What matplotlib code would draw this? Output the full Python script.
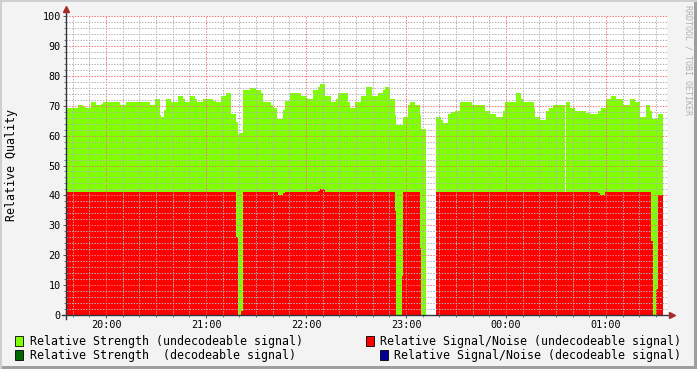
import matplotlib
matplotlib.use("Agg")
import matplotlib.pyplot as plt
import numpy as np
from matplotlib.patches import Rectangle
from matplotlib.lines import Line2D

# ---------------- data (minutes after 20:00; last time = end of data) -------------
strength_t = [-24.0, -16.8, -13.8, -12.2, -9.2, -6.2, -2.8, -1.6, 8.4, 11.8, 26.4, 29.2,
              32.4, 33.0, 34.8, 36.2, 38.8, 43.2, 46.2, 47.4, 50.4, 53.4, 54.4, 58.4,
              64.4, 65.8, 68.8, 71.8, 74.8, 78.0, 79.2, 80.4, 82.2, 86.4, 89.8, 92.8,
              93.9, 98.8, 100.2, 102.8, 106.2, 107.4, 110.4, 116.8, 119.8, 121.2, 124.2,
              127.2, 128.4, 131.4, 134.8, 137.8, 139.2, 145.2, 146.4, 149.4, 152.8, 156.2,
              159.8, 163.2, 166.2, 167.4, 170.4, 173.4, 174.0, 178.0, 181.2, 182.4, 185.4,
              188.4, 189.0, 192.0, 198.0, 201.0, 202.4, 205.4, 207.0, 209.4, 212.4, 219.4,
              227.4, 230.7, 234.2, 238.2, 239.7, 245.8, 249.0, 250.2, 256.5, 257.4, 260.4,
              263.7, 265.8, 268.4, 275.7, 278.2, 281.4, 288.0, 289.8, 295.2, 296.8, 299.8,
              302.8, 305.8, 310.2, 314.4, 317.4, 320.4, 323.8, 326.7, 327.9, 331.2, 334.2]
strength_v = [69.3, 70.2, 69.7, 69.3, 71.2, 70.2, 70.7, 71.2, 70.2, 71.2, 70.2, 72.2,
              66.9, 66.3, 68.6, 72.2, 71.2, 73.2, 72.2, 71.2, 73.2, 72.2, 71.2, 72.2,
              71.6, 71.2, 73.2, 74.2, 67.3, 64.6, 60.4, 60.8, 75.2, 75.8, 75.2, 74.2,
              71.2, 70.2, 69.3, 65.4, 68.6, 71.7, 74.2, 73.2, 72.6, 72.2, 75.2,
              76.2, 77.3, 73.2, 71.2, 72.2, 74.2, 71.2, 69.2, 71.2, 73.2, 76.2,
              73.2, 74.2, 75.2, 76.2, 72.2, 67.0, 63.5, 66.3, 70.2, 71.2, 70.2,
              66.9, 62.1, np.nan, 66.3, 65.2, 64.3, 67.2, 67.8, 68.3, 71.2, 70.2,
              68.2, 67.2, 66.3, 68.2, 71.2, 74.2, 72.2, 71.2, 69.2, 66.3, 65.3,
              68.2, 69.2, 70.2, 71.2, 69.2, 68.2, 67.6, 67.2, 68.3, 69.2, 72.2,
              73.2, 72.2, 70.2, 72.2, 71.2, 66.3, 70.2, 68.3, 65.4, 67.2]

snr_t = [-24.0, 78.0, 79.0, 81.0, 82.2, 103.0, 106.0, 107.4, 127.0, 128.4, 131.4,
         173.4, 174.0, 177.3, 178.2, 188.4, 189.0, 192.0, 198.0, 295.0, 296.4, 299.4,
         327.0, 328.0, 330.0, 331.0, 334.2]
snr_v = [41.2, 26.2, 0.0, 1.4, 41.2, 40.2, 40.7, 41.2, 41.6, 42.1, 41.2,
         34.8, 0.0, 13.1, 41.2, 22.4, 0.0, np.nan, 41.2, 40.7, 40.1, 41.2,
         24.7, 0.0, 8.7, 40.1]

x_tick_pos = [0, 60, 120, 180, 240, 300]
x_tick_labels = ["20:00", "21:00", "22:00", "23:00", "00:00", "01:00"]
y_ticks = list(range(0, 101, 10))

legend_labels = ["Relative Strength (undecodeable signal)",
                 "Relative Signal/Noise (undecodeable signal)",
                 "Relative Strength  (decodeable signal)",
                 "Relative Signal/Noise (decodeable signal)"]
legend_colors = ["#80FF00", "#FF0000", "#006600", "#000099"]

# ---------------- figure ---------------------------------------------------------
W, H = 697, 369
MONO = "DejaVu Sans Mono"
plt.rcParams["font.family"] = MONO

fig = plt.figure(figsize=(W / 100, H / 100), dpi=100, facecolor="#F3F3F3")

def fx(px):
    return px / W

def fy(py):
    return 1 - py / H

L, R, T, B = 66, 667, 16, 315
ax = fig.add_axes([fx(L), fy(B), fx(R) - fx(L), fy(T) - fy(B)])
ax.set_facecolor("white")

st = np.array(strength_t)
ax.bar(st[:-1], strength_v, width=np.diff(st), align="edge", color=legend_colors[0],
       linewidth=0, antialiased=False, zorder=1)
rt = np.array(snr_t)
ax.bar(rt[:-1], snr_v, width=np.diff(rt), align="edge", color=legend_colors[1],
       linewidth=0, antialiased=False, zorder=1.2)

ax.set_xlim(-24.0, 336.6)
ax.set_ylim(0, 100)

ax.set_xticks(x_tick_pos)
ax.set_xticklabels(x_tick_labels)
ax.set_xticks(np.arange(-20, 336, 10), minor=True)
ax.set_yticks(y_ticks)
ax.set_yticks(np.arange(0, 101, 2), minor=True)

ax.set_axisbelow(False)
ax.grid(which="minor", color=(0.70, 0.70, 0.70, 0.5), linestyle=(0, (1.4, 1.4)),
        linewidth=0.72)
ax.grid(which="major", color=(0.95, 0.45, 0.45, 0.5), linestyle=(0, (1.4, 1.4)),
        linewidth=0.72)

ax.tick_params(which="major", length=2.5, width=0.7, color="#555555", pad=1.3,
               labelsize=7.3, direction="out")
ax.tick_params(which="minor", length=1.5, width=0.7, color="#777777", direction="out")
for s in ax.spines.values():
    s.set_visible(False)

# axis lines with arrows
axis_col = "#2F3540"
ax.add_line(Line2D([-4 / 601, 1 + 3 / 601], [0, 0], transform=ax.transAxes,
                   color=axis_col, linewidth=1.0, clip_on=False, zorder=5))
ax.add_line(Line2D([0, 0], [-4 / 299, 1 + 5 / 299], transform=ax.transAxes,
                   color=axis_col, linewidth=1.0, clip_on=False, zorder=5))
ax.plot([1 + 5 / 601], [0], marker=">", markersize=4.2, color="#A52A2A",
        transform=ax.transAxes, clip_on=False, zorder=6)
ax.plot([0], [1 + 7 / 299], marker="^", markersize=4.2, color="#A52A2A",
        transform=ax.transAxes, clip_on=False, zorder=6)

# y label
fig.text(fx(12), fy(165), "Relative Quality", rotation=90, ha="center", va="center",
         fontsize=8.4, family=MONO)

# watermark
fig.text(fx(688), fy(60), "RRDTOOL / TOBI OETIKER", rotation=270, ha="center",
         va="center", fontsize=6.0, color="#B0B0B0", family=MONO)

# legend
rows = [(341, 15, 30), (341, 366, 380), (355, 15, 30), (355, 380, 394)]
for (yy, bx, tx), lab, col in zip(rows, legend_labels, legend_colors):
    fig.patches.append(Rectangle((fx(bx), fy(yy + 5)), fx(8), 10 / H,
                                 transform=fig.transFigure, facecolor=col,
                                 edgecolor="black", linewidth=0.6))
    fig.text(fx(tx), fy(yy), lab, ha="left", va="center", fontsize=8.42, family=MONO)

# frame shading
fig.patches.append(Rectangle((fx(W - 3), 0), fx(3), 1, transform=fig.transFigure,
                             facecolor="#9E9E9E", edgecolor="none"))
fig.patches.append(Rectangle((0, 0), 1, 3 / H, transform=fig.transFigure,
                             facecolor="#9E9E9E", edgecolor="none"))
fig.patches.append(Rectangle((0, 0), fx(2), 1, transform=fig.transFigure,
                             facecolor="#CFCFCF", edgecolor="none"))
fig.patches.append(Rectangle((0, 1 - 2 / H), 1, 2 / H, transform=fig.transFigure,
                             facecolor="#CFCFCF", edgecolor="none"))

fig.savefig("out.png", dpi=100, facecolor=fig.get_facecolor())
